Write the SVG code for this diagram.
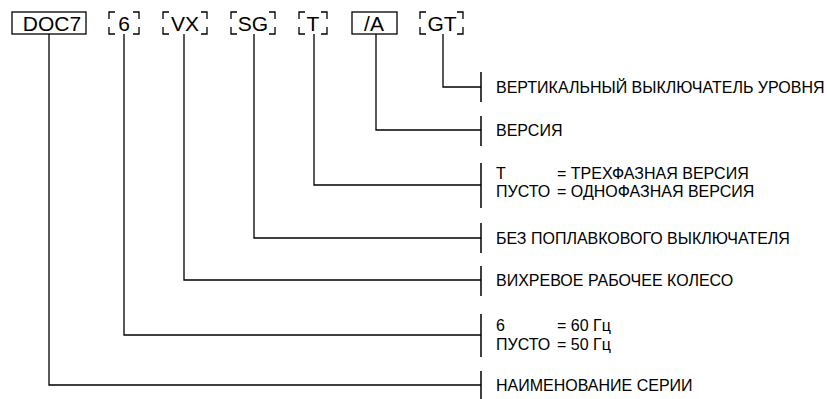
<svg xmlns="http://www.w3.org/2000/svg" width="827" height="399" viewBox="0 0 827 399">
<style>
.bg{fill:#fff}
.box{fill:none;stroke:#000;stroke-width:1.3}
.br{fill:none;stroke:#000;stroke-width:1.3}
.code{font-family:"Liberation Sans",Arial,sans-serif;font-size:21px;fill:#000;text-anchor:middle}
.lbl{font-family:"Liberation Sans",Arial,sans-serif;font-size:16px;fill:#000}
.ln{fill:none;stroke:#000;stroke-width:1.3}
.tk{fill:none;stroke:#000;stroke-width:1.5}
</style>
<rect class="bg" x="0" y="0" width="827" height="399"/>
<g id="node-doc7">
<rect class="box" x="12" y="12" width="74" height="22"/>
<text class="code" x="52" y="31">DOC7</text>
</g>
<g id="node-6">
<path class="br" d="M109,19V12H115M133,12H139V19M109,27V34H115M133,34H139V27"/>
<text class="code" x="124" y="31">6</text>
</g>
<g id="node-vx">
<path class="br" d="M163,19V12H169M201,12H207V19M163,27V34H169M201,34H207V27"/>
<text class="code" x="185" y="31">VX</text>
</g>
<g id="node-sg">
<path class="br" d="M231,19V12H237M269,12H275V19M231,27V34H237M269,34H275V27"/>
<text class="code" x="253" y="31">SG</text>
</g>
<g id="node-t">
<path class="br" d="M299,19V12H305M321,12H327V19M299,27V34H305M321,34H327V27"/>
<text class="code" x="313" y="31">T</text>
</g>
<g id="node-a">
<rect class="box" x="352" y="12" width="45" height="22"/>
<text class="code" x="374" y="31">/A</text>
</g>
<g id="node-gt">
<path class="br" d="M420,19V12H426M457,12H463V19M420,27V34H426M457,34H463V27"/>
<text class="code" x="442" y="31">GT</text>
</g>
<g id="connectors">
<path class="ln" d="M443,34V87H481"/>
<path class="ln" d="M376,34V130H481"/>
<path class="ln" d="M314,34V185H481"/>
<path class="ln" d="M254,34V238H481"/>
<path class="ln" d="M184,34V280H481"/>
<path class="ln" d="M124,34V335H481"/>
<path class="ln" d="M49,34V385H481"/>
<path class="tk" d="M481,72V102M481,116V146M481,163V208M481,223V253M481,266V296M481,314V357M481,371V399"/>
</g>
<g id="labels">
<text class="lbl" x="496" y="93">ВЕРТИКАЛЬНЫЙ ВЫКЛЮЧАТЕЛЬ УРОВНЯ</text>
<text class="lbl" x="496" y="136">ВЕРСИЯ</text>
<text class="lbl" x="496" y="179">Т</text>
<text class="lbl" x="557" y="179">= ТРЕХФАЗНАЯ ВЕРСИЯ</text>
<text class="lbl" x="496" y="197">ПУСТО</text>
<text class="lbl" x="557" y="197">= ОДНОФАЗНАЯ ВЕРСИЯ</text>
<text class="lbl" x="496" y="244">БЕЗ ПОПЛАВКОВОГО ВЫКЛЮЧАТЕЛЯ</text>
<text class="lbl" x="496" y="286">ВИХРЕВОЕ РАБОЧЕЕ КОЛЕСО</text>
<text class="lbl" x="496" y="331">6</text>
<text class="lbl" x="557" y="331">= 60 Гц</text>
<text class="lbl" x="496" y="350">ПУСТО</text>
<text class="lbl" x="557" y="350">= 50 Гц</text>
<text class="lbl" x="496" y="391">НАИМЕНОВАНИЕ СЕРИИ</text>
</g>
</svg>
